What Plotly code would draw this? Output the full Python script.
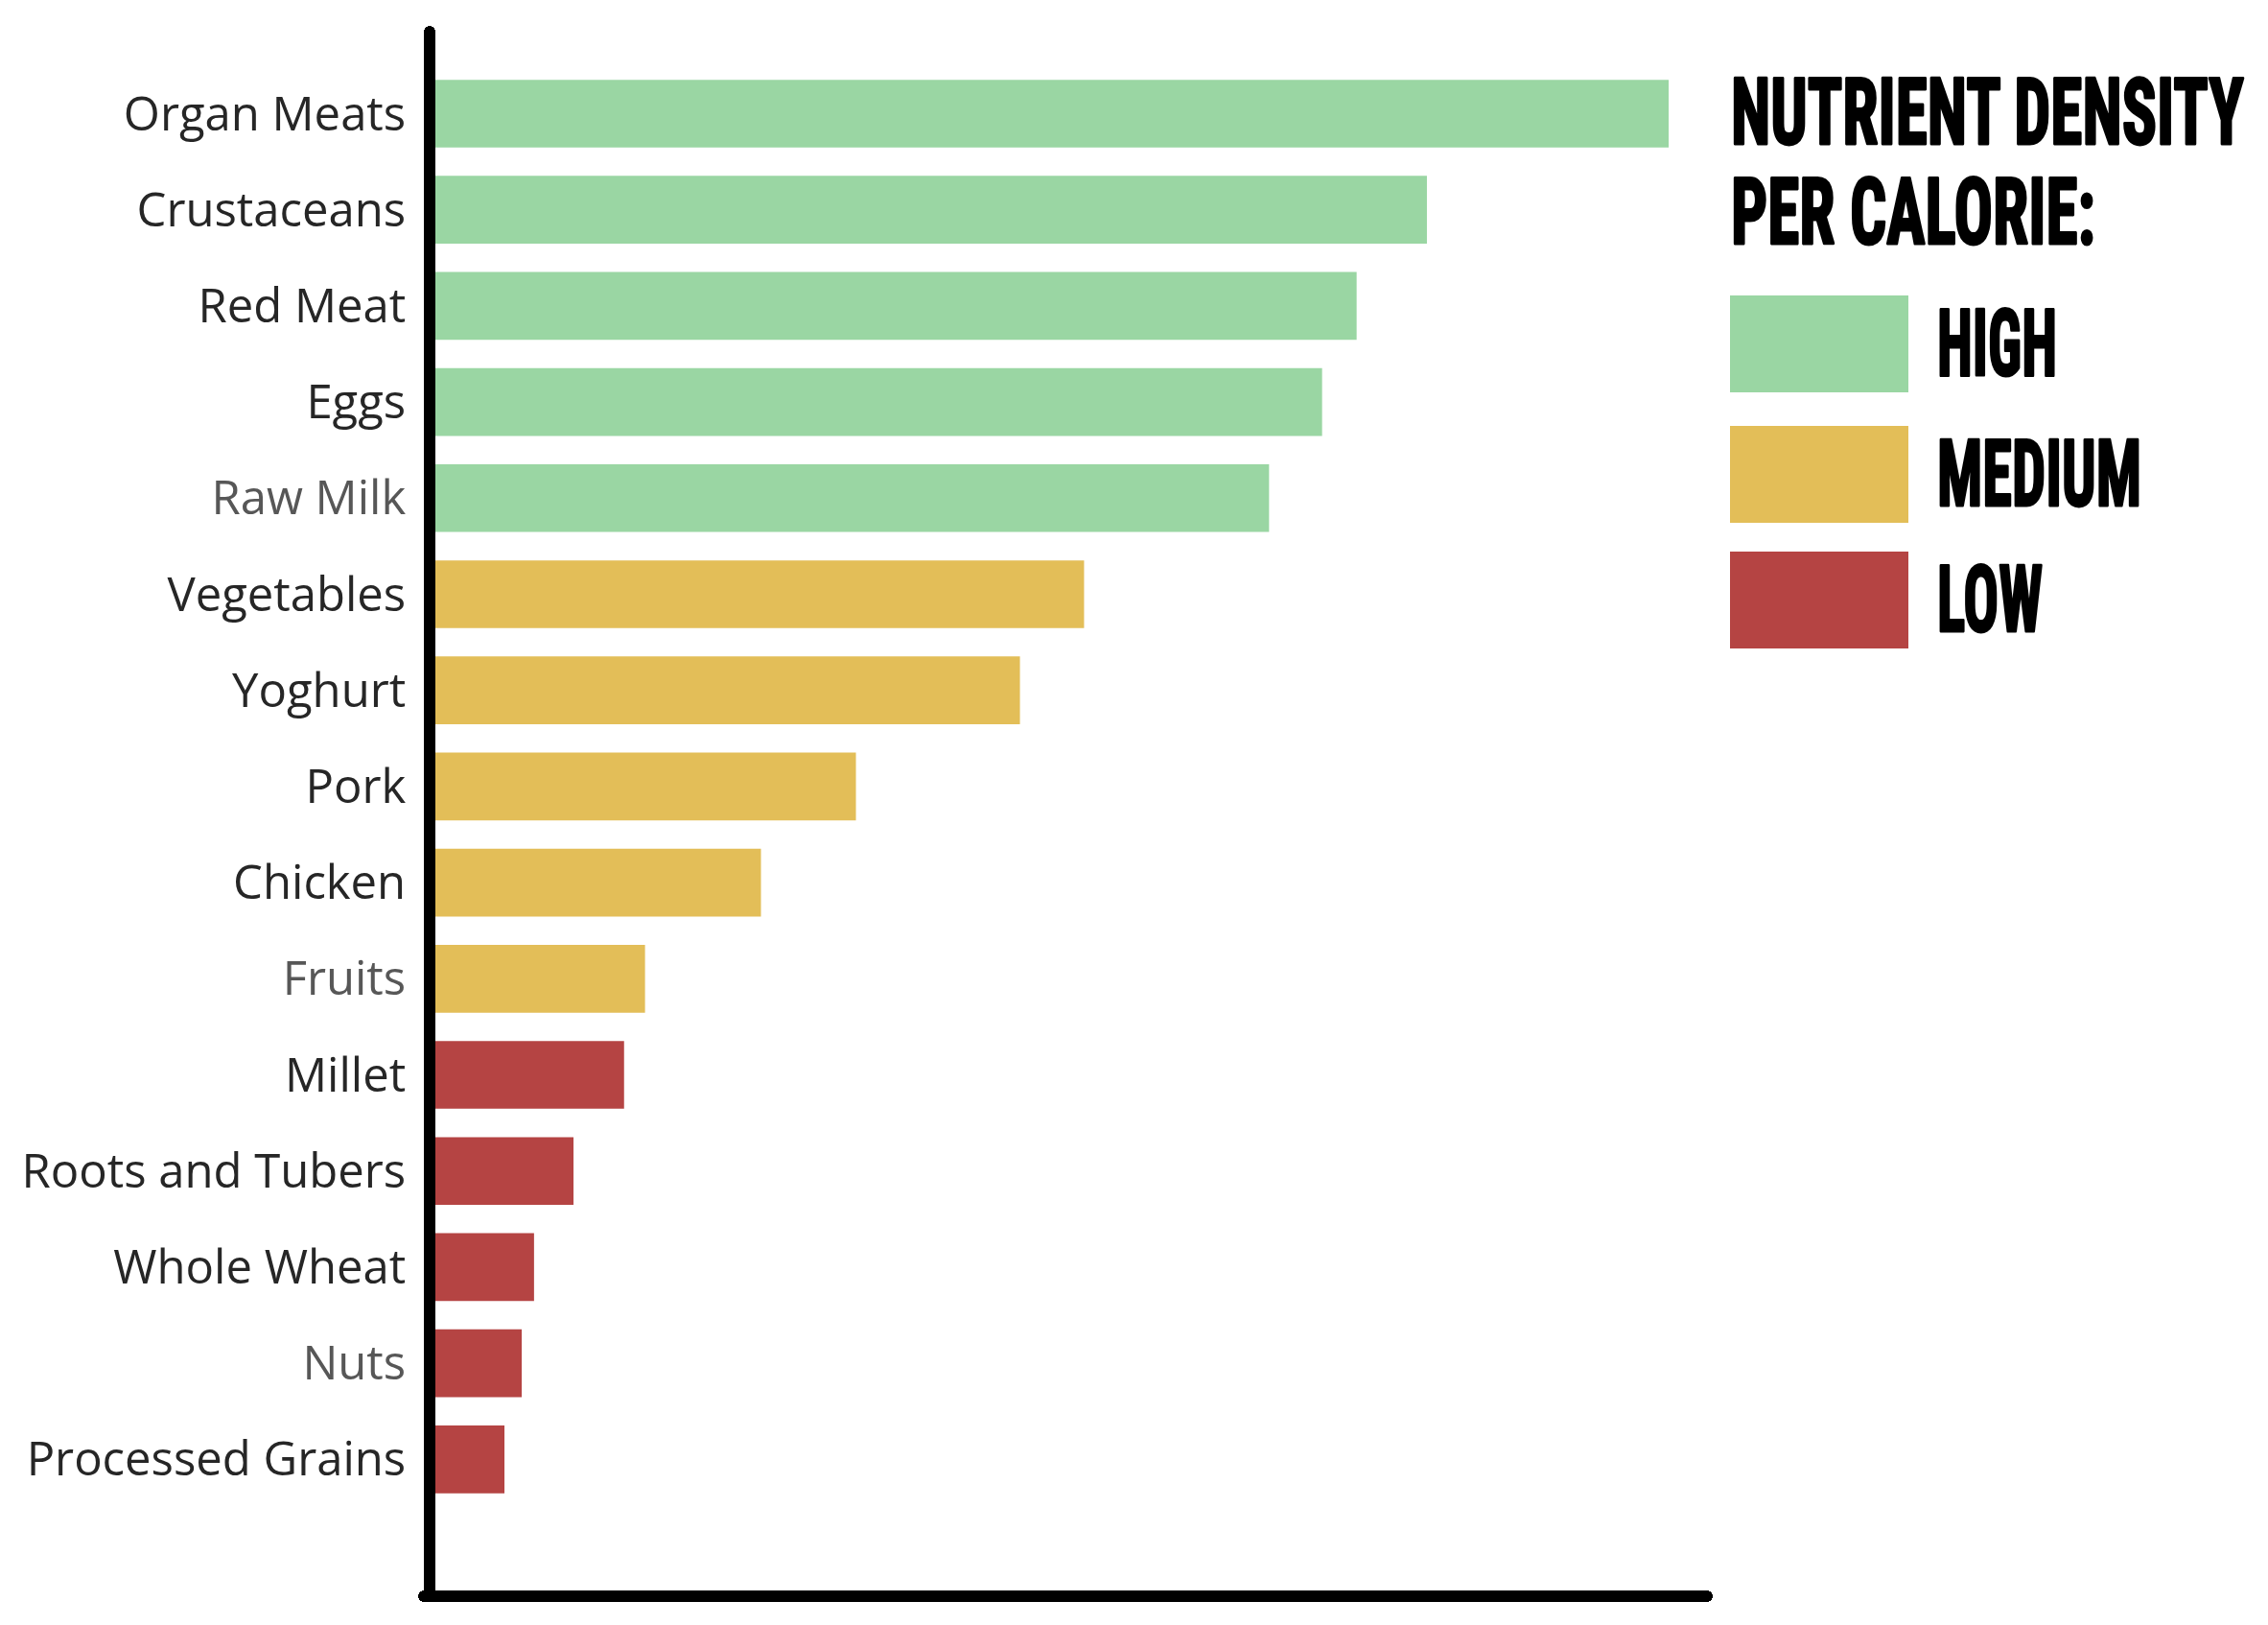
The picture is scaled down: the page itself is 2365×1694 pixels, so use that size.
import json
import plotly.graph_objects as go

# ---- data ----
foods = ["Organ Meats", "Crustaceans", "Red Meat", "Eggs", "Raw Milk",
         "Vegetables", "Yoghurt", "Pork", "Chicken", "Fruits",
         "Millet", "Roots and Tubers", "Whole Wheat", "Nuts", "Processed Grains"]
density = [100, 80.4, 74.7, 71.9, 67.6,
           52.6, 47.4, 34.1, 26.4, 17.0,
           15.3, 11.2, 8.0, 7.0, 5.6]
level = ["HIGH"] * 5 + ["MEDIUM"] * 5 + ["LOW"] * 5
levels = ["HIGH", "MEDIUM", "LOW"]
level_colors = ["#9AD6A3", "#E3BE58", "#B54443"]
light_labels = ["Raw Milk", "Fruits", "Nuts"]
legend_title_lines = ["NUTRIENT DENSITY", "PER CALORIE:"]

# ---- layout geometry ----
W, H = 2365, 1694
L, R, T, B = 446, 593, 25, 44
PW, PH = W - L - R, H - T - B

def px(x):
    return (x - L) / PW

def py(y):
    return 1 - (y - T) / PH

color_of = dict(zip(levels, level_colors))
bar_colors = [color_of[l] for l in level]

ticktext = [
    f"<span style='color:#575757'>{f}</span>" if f in light_labels else f
    for f in foods
]

fig = go.Figure()
fig.add_trace(go.Bar(
    y=foods, x=density, orientation="h",
    marker=dict(color=bar_colors, line=dict(width=0)),
    width=0.705, showlegend=False, hoverinfo="skip",
))

fig.update_layout(
    width=W, height=H,
    margin=dict(l=L, r=R, t=T, b=B, pad=0),
    paper_bgcolor="white", plot_bgcolor="white",
    showlegend=False,
    font=dict(family="Open Sans, sans-serif", color="#262626"),
)
fig.update_xaxes(range=[0, 103.11], showgrid=False, zeroline=False,
                 showticklabels=False, ticks="",
                 showline=True, linewidth=12, linecolor="black")
fig.update_yaxes(type="category", categoryorder="array", categoryarray=foods,
                 tickmode="array", tickvals=foods, ticktext=ticktext,
                 range=[15.364, -0.853], showgrid=False, zeroline=False,
                 ticks="", tickfont=dict(size=49, color="#262626"),
                 showline=True, linewidth=12, linecolor="black",
                 ticklabelstandoff=9)

# ---- custom legend (condensed display lettering) ----
LEG_FONT = dict(family="Roboto Condensed, Roboto, sans-serif", size=96,
                color="black", weight=700)
title_centers = [109, 213]
title_widths = [537, 382]
for line, cy in zip(legend_title_lines, title_centers):
    fig.add_annotation(xref="paper", yref="paper", x=px(1796), y=py(cy),
                       xanchor="left", yanchor="middle", showarrow=False,
                       borderpad=0, text=line, font=LEG_FONT)

sw_top = [300, 436, 567]
label_widths = [127, 215, 112]
for lab, col, top in zip(levels, level_colors, sw_top):
    fig.add_shape(type="rect", xref="paper", yref="paper",
                  x0=px(1796), x1=px(1982), y0=py(top), y1=py(top + 101),
                  fillcolor=col, line=dict(width=0))
    fig.add_annotation(xref="paper", yref="paper", x=px(2011), y=py(top + 50),
                       xanchor="left", yanchor="middle", showarrow=False,
                       borderpad=0, text=lab, font=LEG_FONT)

targets = dict(zip(legend_title_lines + levels, title_widths + label_widths))
STROKE = 3

post_js = """
var gd = document.getElementById('{plot_id}');
var TARGETS = __TARGETS__;
var SW = __STROKE__;
function condense() {
  gd.querySelectorAll('g.annotation text.annotation-text').forEach(function (t) {
    var tw = TARGETS[t.textContent];
    if (!tw) return;
    t.style.transform = 'none';
    var bb = t.getBBox();
    var sx = tw / (bb.width + SW);
    t.style.stroke = '#000';
    t.style.strokeWidth = SW + 'px';
    t.style.strokeLinejoin = 'round';
    t.style.paintOrder = 'stroke';
    t.style.transformBox = 'fill-box';
    t.style.transformOrigin = '0% 50%';
    t.style.transform = 'scaleX(' + sx + ')';
  });
  gd.querySelectorAll('path[class*="lines-"]').forEach(function (p) {
    p.style.strokeLinecap = 'round';
  });
}
condense();
setTimeout(condense, 100);
setTimeout(condense, 600);
if (gd.on) gd.on('plotly_afterplot', condense);
""".replace("__TARGETS__", json.dumps(targets)).replace("__STROKE__", str(STROKE))

fig.write_html("out.html", post_script=post_js)
